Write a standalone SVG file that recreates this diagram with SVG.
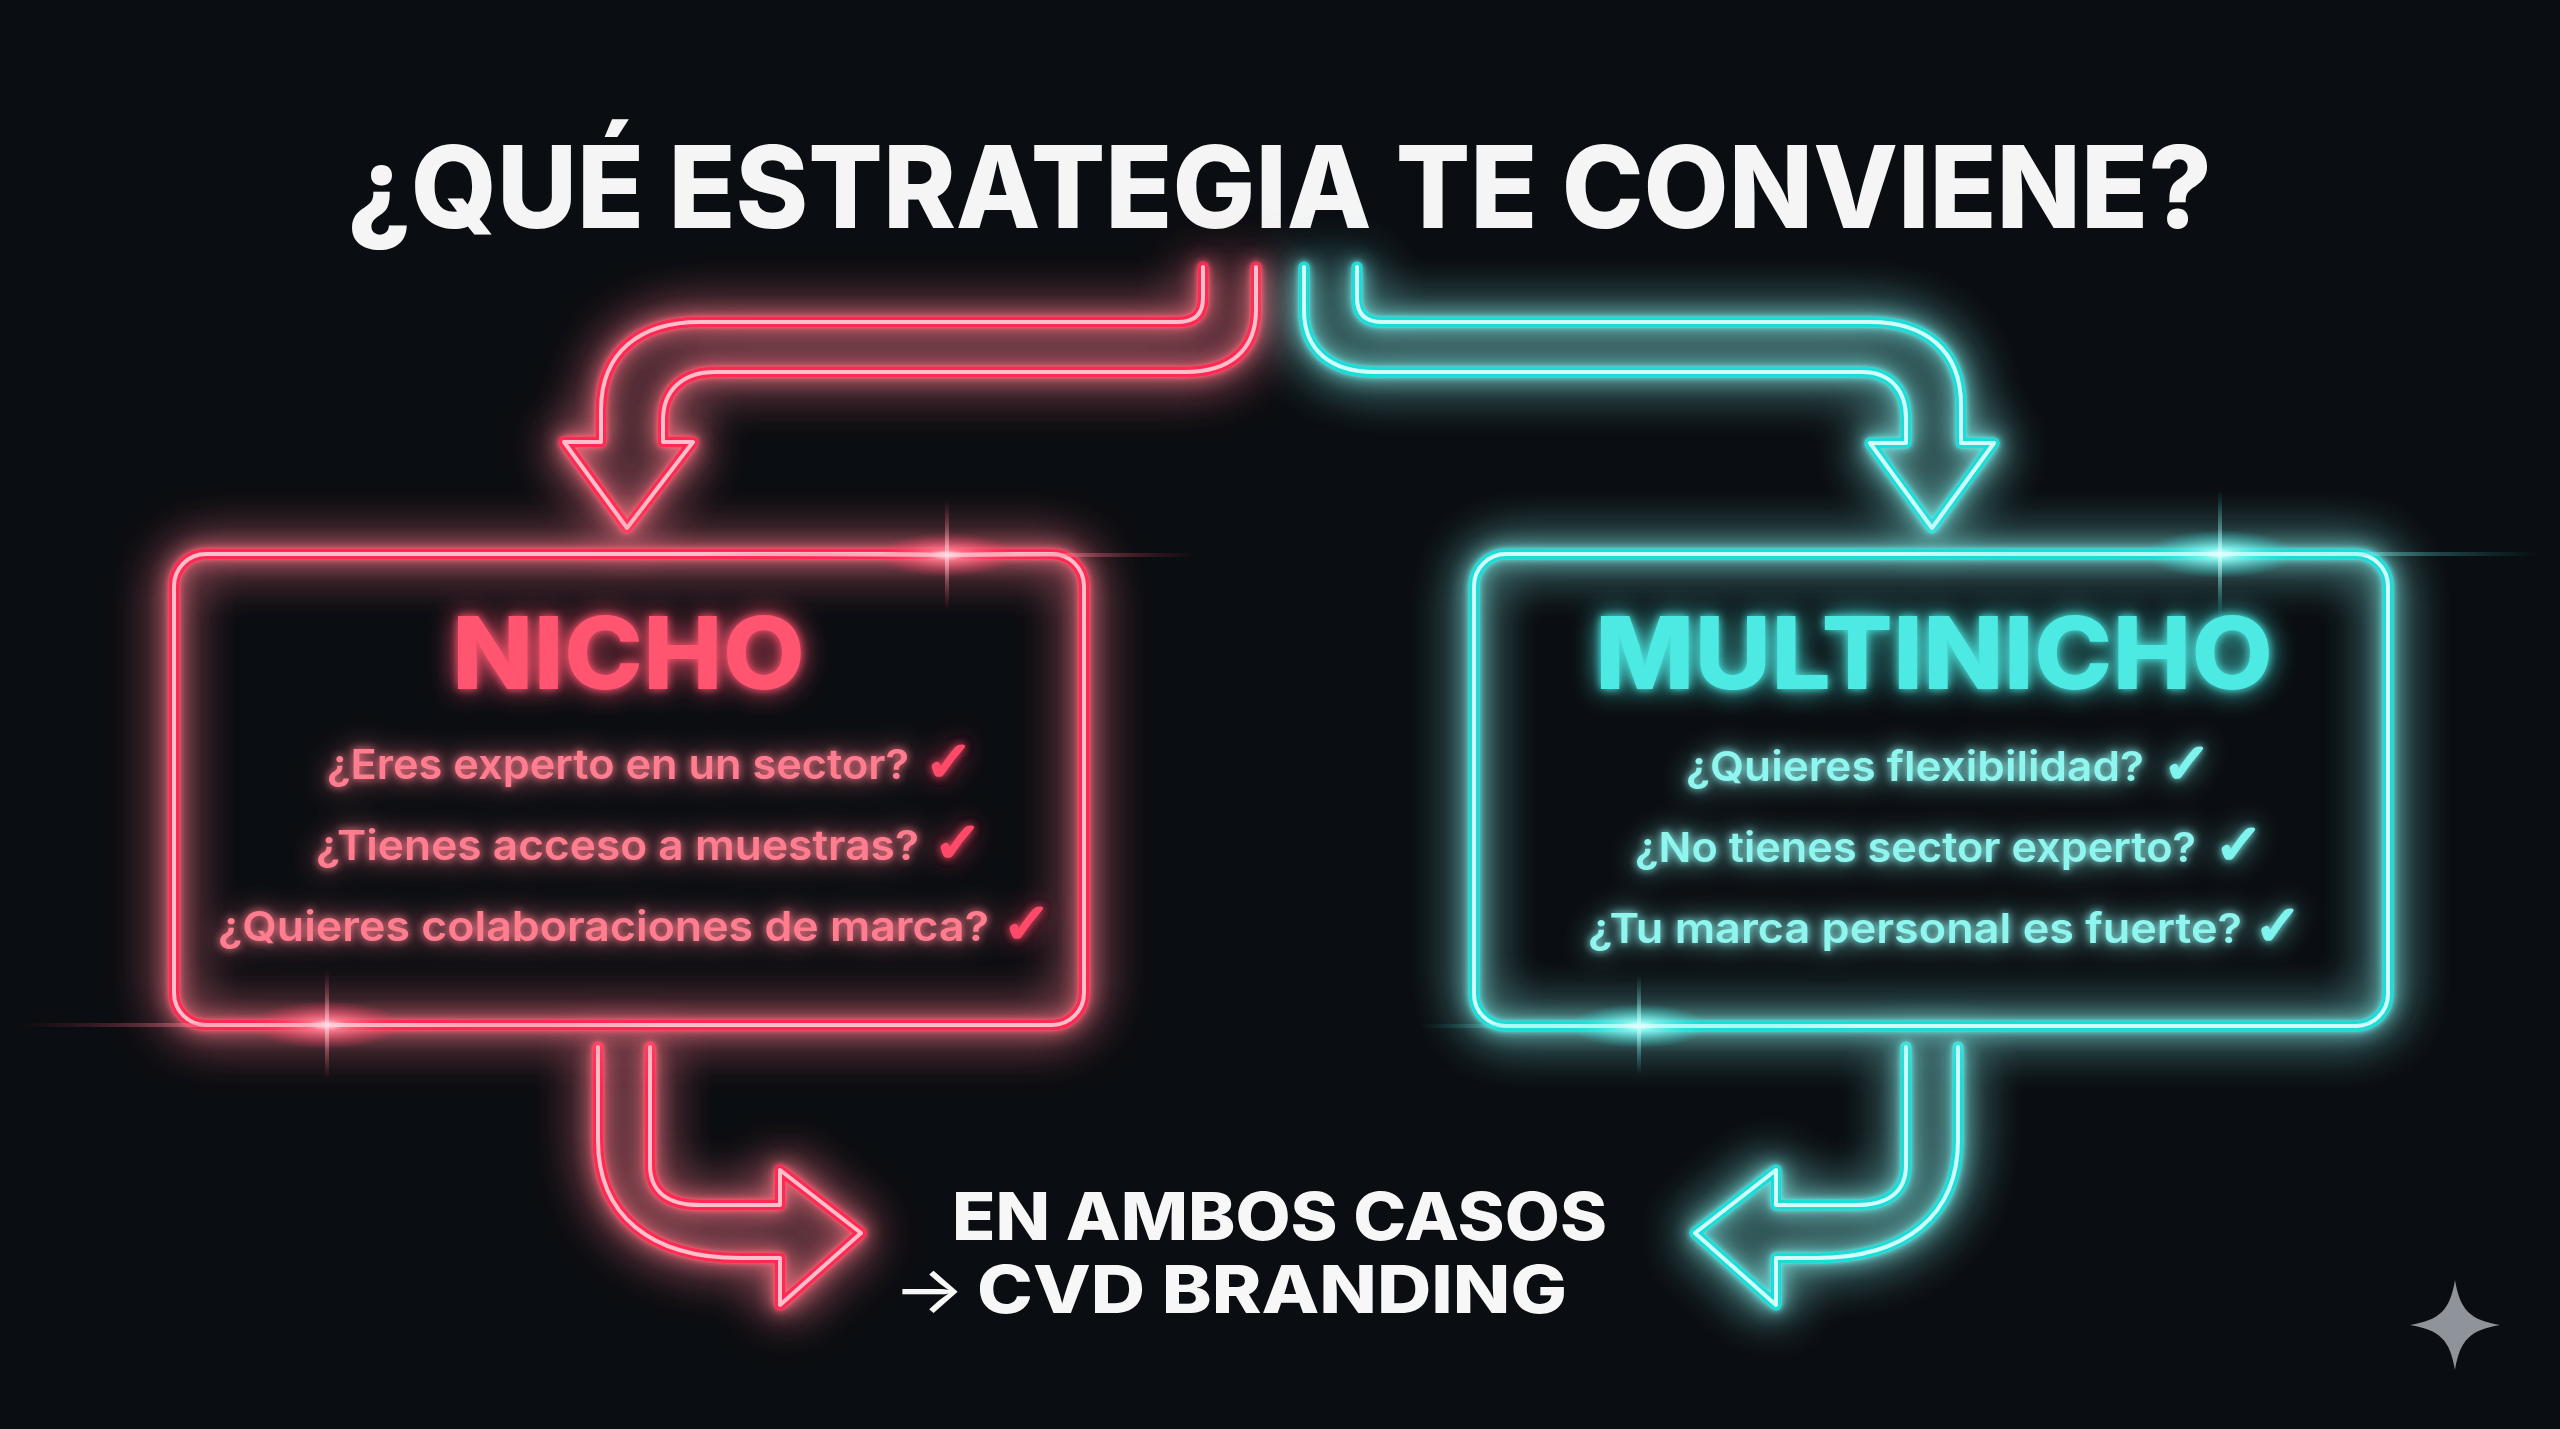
<svg xmlns="http://www.w3.org/2000/svg" width="2560" height="1429" viewBox="0 0 2560 1429">
<defs>
<style>
.tube{fill:none;stroke-linecap:round;stroke-linejoin:round}
.red .tube{stroke:#ff2c52;stroke-width:11}
.red .core{fill:none;stroke:#ffc0cb;stroke-width:4;stroke-linecap:round;stroke-linejoin:round}
.cyan .tube{stroke:#1fdcd8;stroke-width:11}
.cyan .core{fill:none;stroke:#d2fffc;stroke-width:4;stroke-linecap:round;stroke-linejoin:round}
.title{font-family:Inter,"Liberation Sans",sans-serif;font-weight:800;fill:#f5f5f5}
.head{font-family:Inter,"Liberation Sans",sans-serif;font-weight:800}
.q{font-family:Inter,"DejaVu Sans","Liberation Sans",sans-serif;font-weight:600;font-size:41px}
.ck{font-family:"DejaVu Sans",sans-serif;font-weight:700;font-size:56px;stroke-width:2.5;stroke-linejoin:round}
.redtxt{fill:#ff7d8e}
.redck{fill:#ff4a68;stroke:#ff4a68}
.redhead{fill:#ff5571}
.cyantxt{fill:#8ef5ef}
.cyanck{fill:#7ff3ed;stroke:#7ff3ed}
.cyanhead{fill:#4eeae3}
.bottom{font-family:Inter,"Liberation Sans",sans-serif;font-weight:800;font-size:66px;fill:#f7f7f7}
.arrowglyph{font-family:Inter,"DejaVu Sans",sans-serif;font-weight:400;font-size:66px;fill:#f7f7f7}
</style>
<filter id="glow" filterUnits="userSpaceOnUse" x="0" y="0" width="2560" height="1429">
<feGaussianBlur in="SourceGraphic" stdDeviation="3" result="a"/>
<feGaussianBlur in="SourceGraphic" stdDeviation="10" result="b"/>
<feGaussianBlur in="SourceGraphic" stdDeviation="26" result="c"/>
<feMerge><feMergeNode in="c"/><feMergeNode in="c"/><feMergeNode in="b"/><feMergeNode in="a"/><feMergeNode in="SourceGraphic"/></feMerge>
</filter>
<filter id="tglow" filterUnits="userSpaceOnUse" x="0" y="0" width="2560" height="1429">
<feGaussianBlur in="SourceGraphic" stdDeviation="4" result="a"/>
<feGaussianBlur in="SourceGraphic" stdDeviation="14" result="b"/>
<feMerge><feMergeNode in="b"/><feMergeNode in="a"/><feMergeNode in="SourceGraphic"/></feMerge>
</filter>
<radialGradient id="flareR" cx="50%" cy="50%" r="50%">
<stop offset="0" stop-color="#ffffff" stop-opacity="1"/>
<stop offset="0.25" stop-color="#ff7d92" stop-opacity="0.8"/>
<stop offset="1" stop-color="#ff2c52" stop-opacity="0"/>
</radialGradient>
<radialGradient id="flareC" cx="50%" cy="50%" r="50%">
<stop offset="0" stop-color="#ffffff" stop-opacity="1"/>
<stop offset="0.25" stop-color="#8ff7f2" stop-opacity="0.8"/>
<stop offset="1" stop-color="#1fdcd8" stop-opacity="0"/>
</radialGradient>
<linearGradient id="streakR" x1="0" y1="0" x2="1" y2="0">
<stop offset="0" stop-color="#ff2c52" stop-opacity="0"/>
<stop offset="0.5" stop-color="#ffd0d8" stop-opacity="0.8"/>
<stop offset="1" stop-color="#ff2c52" stop-opacity="0"/>
</linearGradient>
<linearGradient id="streakC" x1="0" y1="0" x2="1" y2="0">
<stop offset="0" stop-color="#1fdcd8" stop-opacity="0"/>
<stop offset="0.5" stop-color="#d8fffd" stop-opacity="0.8"/>
<stop offset="1" stop-color="#1fdcd8" stop-opacity="0"/>
</linearGradient>
<linearGradient id="vstreakR" x1="0" y1="0" x2="0" y2="1">
<stop offset="0" stop-color="#ff2c52" stop-opacity="0"/>
<stop offset="0.5" stop-color="#ffe0e5" stop-opacity="0.7"/>
<stop offset="1" stop-color="#ff2c52" stop-opacity="0"/>
</linearGradient>
<linearGradient id="vstreakC" x1="0" y1="0" x2="0" y2="1">
<stop offset="0" stop-color="#1fdcd8" stop-opacity="0"/>
<stop offset="0.5" stop-color="#e0fffd" stop-opacity="0.7"/>
<stop offset="1" stop-color="#1fdcd8" stop-opacity="0"/>
</linearGradient>
</defs>

<rect x="0" y="0" width="2560" height="1429" fill="#0a0d11"/>

<g id="title">
<text class="title" x="347" y="228" font-size="114" textLength="1865" lengthAdjust="spacingAndGlyphs">¿QUÉ ESTRATEGIA TE CONVIENE?</text>
</g>

<g id="connectors">
<g class="red" filter="url(#glow)">
<path class="tube" d="M1203 267 L1203 298 C1203 314 1195 322 1178 322 L700 322 C640 322 601 352 601 410 L601 442 L564 442 L627 528 L693 442 L663 442 L663 420 C663 390 683 372 715 372 L1185 372 C1230 372 1256 350 1256 310 L1256 267"/>
<path class="core" d="M1203 267 L1203 298 C1203 314 1195 322 1178 322 L700 322 C640 322 601 352 601 410 L601 442 L564 442 L627 528 L693 442 L663 442 L663 420 C663 390 683 372 715 372 L1185 372 C1230 372 1256 350 1256 310 L1256 267"/>
<path class="tube" d="M650 1047 L650 1165 C650 1192 668 1205 700 1205 L780 1205 L780 1170 L861 1233 L780 1305 L780 1258 L740 1258 C650 1258 598 1215 598 1140 L598 1047"/>
<path class="core" d="M650 1047 L650 1165 C650 1192 668 1205 700 1205 L780 1205 L780 1170 L861 1233 L780 1305 L780 1258 L740 1258 C650 1258 598 1215 598 1140 L598 1047"/>
</g>
<g class="cyan" filter="url(#glow)">
<path class="tube" d="M1357 267 L1357 298 C1357 314 1365 322 1382 322 L1870 322 C1925 322 1961 350 1961 405 L1961 443 L1994 443 L1932 528 L1870 443 L1906 443 L1906 418 C1906 390 1890 372 1862 372 L1375 372 C1330 372 1304 350 1304 310 L1304 267"/>
<path class="core" d="M1357 267 L1357 298 C1357 314 1365 322 1382 322 L1870 322 C1925 322 1961 350 1961 405 L1961 443 L1994 443 L1932 528 L1870 443 L1906 443 L1906 418 C1906 390 1890 372 1862 372 L1375 372 C1330 372 1304 350 1304 310 L1304 267"/>
<path class="tube" d="M1906 1047 L1906 1165 C1906 1192 1888 1205 1856 1205 L1776 1205 L1776 1170 L1695 1233 L1776 1305 L1776 1258 L1816 1258 C1906 1258 1958 1215 1958 1140 L1958 1047"/>
<path class="core" d="M1906 1047 L1906 1165 C1906 1192 1888 1205 1856 1205 L1776 1205 L1776 1170 L1695 1233 L1776 1305 L1776 1258 L1816 1258 C1906 1258 1958 1215 1958 1140 L1958 1047"/>
</g>
</g>

<g id="node-nicho">
<g class="red" filter="url(#glow)">
<rect class="tube" x="174" y="554" width="910" height="471" rx="32"/>
<rect class="core" x="174" y="554" width="910" height="471" rx="32"/>
</g>
<g filter="url(#tglow)">
<text class="head redhead" x="452" y="689" font-size="100" textLength="353" lengthAdjust="spacingAndGlyphs">NICHO</text>
<text class="q redtxt" x="327" y="779" textLength="582" lengthAdjust="spacingAndGlyphs">¿Eres experto en un sector?</text>
<text class="ck redck" x="924" y="781" textLength="50" lengthAdjust="spacingAndGlyphs">✓</text>
<text class="q redtxt" x="316" y="860" textLength="603" lengthAdjust="spacingAndGlyphs">¿Tienes acceso a muestras?</text>
<text class="ck redck" x="933" y="862" textLength="50" lengthAdjust="spacingAndGlyphs">✓</text>
<text class="q redtxt" x="218" y="941" textLength="771" lengthAdjust="spacingAndGlyphs">¿Quieres colaboraciones de marca?</text>
<text class="ck redck" x="1002" y="943" textLength="50" lengthAdjust="spacingAndGlyphs">✓</text>
</g>
</g>

<g id="node-multinicho">
<g class="cyan" filter="url(#glow)">
<rect class="tube" x="1474" y="554" width="914" height="472" rx="32"/>
<rect class="core" x="1474" y="554" width="914" height="472" rx="32"/>
</g>
<g filter="url(#tglow)">
<text class="head cyanhead" x="1595" y="689" font-size="100" textLength="678" lengthAdjust="spacingAndGlyphs">MULTINICHO</text>
<text class="q cyantxt" x="1686" y="781" textLength="458" lengthAdjust="spacingAndGlyphs">¿Quieres flexibilidad?</text>
<text class="ck cyanck" x="2162" y="783" textLength="50" lengthAdjust="spacingAndGlyphs">✓</text>
<text class="q cyantxt" x="1635" y="862" textLength="561" lengthAdjust="spacingAndGlyphs">¿No tienes sector experto?</text>
<text class="ck cyanck" x="2214" y="864" textLength="50" lengthAdjust="spacingAndGlyphs">✓</text>
<text class="q cyantxt" x="1588" y="943" textLength="654" lengthAdjust="spacingAndGlyphs">¿Tu marca personal es fuerte?</text>
<text class="ck cyanck" x="2254" y="945" textLength="48" lengthAdjust="spacingAndGlyphs">✓</text>
</g>
</g>

<g id="node-result">
<text class="bottom" x="952" y="1240" textLength="655" lengthAdjust="spacingAndGlyphs">EN AMBOS CASOS</text>
<text class="arrowglyph" x="893" y="1313" textLength="72" lengthAdjust="spacingAndGlyphs">→</text>
<text class="bottom" x="977" y="1313" textLength="590" lengthAdjust="spacingAndGlyphs">CVD BRANDING</text>
</g>

<g id="flares">
<ellipse cx="947" cy="555" rx="70" ry="22" fill="url(#flareR)"/>
<rect x="700" y="553" width="500" height="4" fill="url(#streakR)"/>
<rect x="945" y="500" width="4" height="110" fill="url(#vstreakR)"/>
<ellipse cx="327" cy="1025" rx="75" ry="24" fill="url(#flareR)"/>
<rect x="20" y="1023" width="640" height="4" fill="url(#streakR)"/>
<rect x="325" y="970" width="4" height="110" fill="url(#vstreakR)"/>
<ellipse cx="2220" cy="554" rx="75" ry="24" fill="url(#flareC)"/>
<rect x="1900" y="552" width="640" height="4" fill="url(#streakC)"/>
<rect x="2218" y="490" width="4" height="130" fill="url(#vstreakC)"/>
<ellipse cx="1639" cy="1026" rx="70" ry="22" fill="url(#flareC)"/>
<rect x="1420" y="1024" width="440" height="4" fill="url(#streakC)"/>
<rect x="1637" y="975" width="4" height="100" fill="url(#vstreakC)"/>
</g>

<g id="watermark">
<path d="M2455 1280 C2460 1310 2470 1320 2500 1325 C2470 1330 2460 1340 2455 1370 C2450 1340 2440 1330 2410 1325 C2440 1320 2450 1310 2455 1280 Z" fill="#8f949b"/>
</g>
</svg>
